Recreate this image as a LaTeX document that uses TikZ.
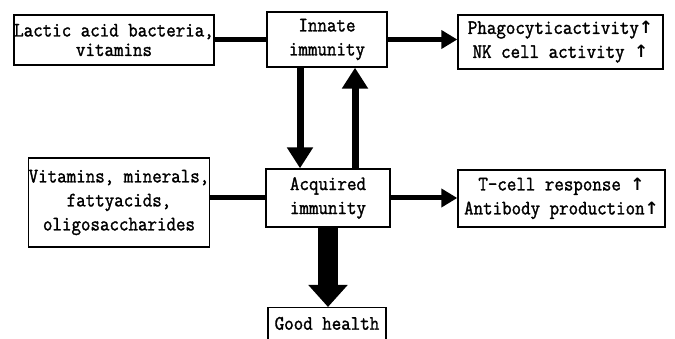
\documentclass[tikz,border=0pt]{standalone}
\usepackage{fontspec}
\newfontfamily\monofnt[FakeStretch=0.9,FakeBold=1.5]{Latin Modern Mono}
\newfontfamily\arrfnt{DejaVu Sans}
\newcommand{\upa}{{\arrfnt\fontsize{17}{17}\selectfont\bfseries ↑}}
\usetikzlibrary{arrows.meta}
\tikzset{
  box/.style={draw, line width=1.4pt, inner sep=0pt, align=center,
    font=\monofnt\fontsize{20.5}{24}\selectfont},
  conn/.style={line width=5pt},
  harrow/.style={line width=5pt, -{Triangle[width=18pt,length=16pt]}},
  varrow/.style={line width=7pt, -{Triangle[width=25pt,length=21pt]}},
  bigarrow/.style={line width=20pt, -{Triangle[width=38pt,length=22pt]}},
}
\begin{document}
\begin{tikzpicture}[x=1pt,y=-1pt]
\clip (0,0) rectangle (675,339);
\fill[white] (0,0) rectangle (675,339);
\node[box, minimum width=200pt, minimum height=50pt,
  font=\monofnt\fontsize{20.5}{19.5}\selectfont] (lab) at (114,40) {Lactic acid bacteria,\\vitamins};
\node[box, minimum width=120pt, minimum height=55pt] (inn) at (327,39.5) {Innate\\immunity};
\node[box, minimum width=205pt, minimum height=54pt] (pha) at (560.5,42) {Phagocyticactivity\upa\\NK cell activity \upa};
\node[box, minimum width=180pt, minimum height=89pt] (vit) at (119,202.5) {Vitamins, minerals,\\fattyacids,\\oligosaccharides};
\node[box, minimum width=124pt, minimum height=58pt] (acq) at (328,198) {Acquired\\immunity};
\node[box, minimum width=207pt, minimum height=57pt] (tce) at (561.5,198.5) {T-cell response \upa\\Antibody production\upa};
\node[box, minimum width=118pt, anchor=north, inner ysep=9pt, text height=13pt, text depth=4pt] (gh) at (327,307) {Good health};

\draw[conn] (inn.west -| lab.east) -- (inn.west);
\draw[conn] (acq.west -| vit.east) -- (acq.west);
\draw[harrow] (inn.east) -- (inn.east -| pha.west);
\draw[harrow] (acq.east) -- (acq.east -| tce.west);
\draw[varrow] ([xshift=-27pt]inn.south) -- ([xshift=-27pt]inn.south |- acq.north);
\draw[varrow] ([xshift=27pt]acq.north) -- ([xshift=27pt]acq.north |- inn.south);
\draw[bigarrow] (acq.south) -- (acq.south |- gh.north);
\end{tikzpicture}
\end{document}
